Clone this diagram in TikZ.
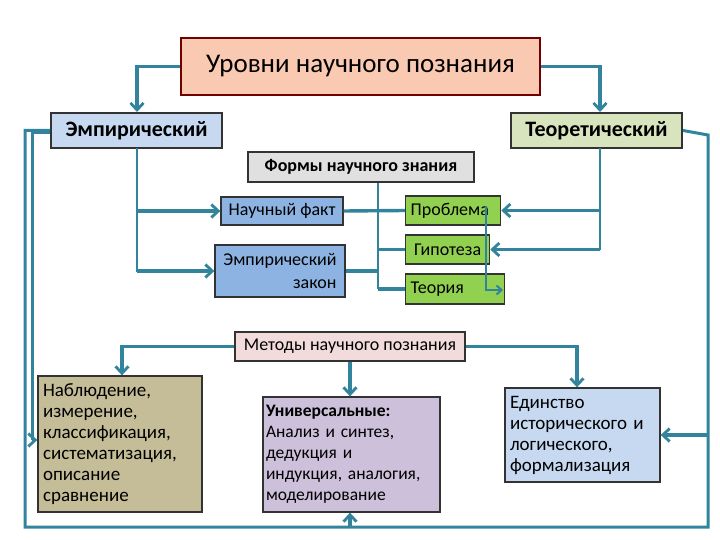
\documentclass[tikz,border=0pt]{standalone}
\usepackage{fontspec}
\setmainfont{Carlito}
\usetikzlibrary{arrows.meta}
\definecolor{teal1}{HTML}{31849B}
\tikzset{
 bx/.style={draw=black!80,line width=1.3pt,inner sep=3pt},
 cn/.style={draw=teal1,line width=3.4pt},
 ar/.style={cn,-{Straight Barb[length=7pt,width=13pt,line width=2.8pt]}},
}
\begin{document}
\begin{tikzpicture}[x=1pt,y=-1pt]
\useasboundingbox (0,0) rectangle (720,540);
\node[bx,draw=red!45!black,line width=2.5pt,fill={rgb,255:red,250;green,201;blue,177},minimum width=359pt,minimum height=57pt,font=\fontsize{27}{30}\selectfont] (top) at (360.5,66.5) {Уровни научного познания};
\node[bx,line width=2pt,fill={rgb,255:red,198;green,217;blue,241},minimum width=171pt,minimum height=35pt,font=\fontsize{22}{24}\selectfont\bfseries,anchor=west] (emp) at (50,130.5) {Эмпирический};
\node[bx,line width=2pt,fill={rgb,255:red,215;green,228;blue,189},minimum width=171pt,minimum height=35pt,font=\fontsize{22}{24}\selectfont\bfseries,anchor=east] (teo) at (683,130.5) {Теоретический};
\node[bx,fill=black!12,minimum width=226pt,minimum height=30pt,font=\fontsize{18}{20}\selectfont\bfseries] (forms) at (361,167) {Формы научного знания};
\node[bx,fill={rgb,255:red,141;green,179;blue,226},minimum width=122pt,minimum height=28pt,font=\fontsize{18}{20}\selectfont] (fact) at (282,211) {Научный факт};
\node[bx,fill={rgb,255:red,141;green,179;blue,226},minimum width=130pt,minimum height=52pt,font=\fontsize{18}{23}\selectfont,align=right] (law) at (280,271) {Эмпирический\\закон};
\node[bx,fill={rgb,255:red,146;green,208;blue,80},minimum width=95pt,minimum height=29pt,font=\fontsize{18}{20}\selectfont,anchor=west,align=left,text width=85pt] (prob) at (405,210.5) {Проблема};
\node[bx,fill={rgb,255:red,146;green,208;blue,80},minimum width=84pt,minimum height=29pt,font=\fontsize{18}{20}\selectfont,anchor=west] (hyp) at (405,249.5) {Гипотеза};
\node[bx,fill={rgb,255:red,146;green,208;blue,80},minimum width=99pt,minimum height=30pt,font=\fontsize{18}{20}\selectfont,anchor=west,align=left,text width=89pt] (theo) at (405,289) {Теория};
\node[bx,fill={rgb,255:red,242;green,220;blue,219},minimum width=230pt,minimum height=29pt,font=\fontsize{18}{20}\selectfont] (meth) at (350,346.5) {Методы научного познания};
\node[bx,fill={rgb,255:red,196;green,189;blue,151},minimum width=164pt,minimum height=136pt,font=\fontsize{19}{21}\selectfont,align=left,text width=154pt] (obs) at (120,444) {Наблюдение,\\измерение,\\классификация,\\систематизация,\\описание\\сравнение};
\node[bx,fill={rgb,255:red,204;green,192;blue,218},minimum width=177pt,minimum height=115pt,font=\fontsize{17.5}{21}\selectfont,align=left,text width=171pt] (uni) at (351.5,454.5) {\textbf{Универсальные:}\\Анализ и синтез,\\дедукция и\\\mbox{индукция, аналогия,}\\моделирование};
\node[bx,fill={rgb,255:red,198;green,217;blue,241},minimum width=155pt,minimum height=94pt,font=\fontsize{19}{21}\selectfont,align=left,text width=145pt] (uny) at (582.5,435) {Единство\\исторического и\\логического,\\формализация};
% top
\draw[ar] (top.west) -| (emp.north -| 137,0);
\draw[ar] (top.east) -| (teo.north -| 600,0);
% empirical
\coordinate (e1) at (137,148);
\draw[cn,line width=2.8pt] (e1) -- (137,272);
\draw[ar] (137,211) -- (fact.west);
\draw[ar] (137,271) -- (law.west);
% theoretical
\draw[cn,line width=2.8pt] (600,148) -- (600,250);
\draw[ar] (600,210.5) -- (prob.east);
\draw[ar] (600,249.5) -- (hyp.east);
% forms
\draw[cn,line width=2.6pt] (forms.south -| 378,0) -- (378,289);
\draw[cn] (fact.east) -- (prob.west);
\draw[cn] (law.east) -- (378,271);
\draw[cn] (378,249.5) -- (hyp.west);
\draw[cn] (378,289) -- (theo.west);
\draw[draw=teal1,line width=1.5pt,-{Straight Barb[length=5pt,width=9pt,line width=2pt]}] (486,206) -- (486,290) -- (503,290);
% outer loops
\draw[cn,line width=3pt] (emp.west) -- (25,130.5) -- (25,527) -- (708,527) -- (708,135) -- (teo.east);
\draw[cn,line width=3pt] (50,133) -- (32,133) -- (32,440);
\draw[ar] (32,440) -- (obs.west |- 0,440);
\draw[ar] (708,435) -- (uny.east);
\draw[ar] (350,527) -- (uni.south -| 350,0);
% methods
\draw[ar] (meth.west) -| (obs.north -| 122,0);
\draw[ar] (meth.east) -| (uny.north -| 577,0);
\draw[ar] (meth.south) -- (uni.north -| 350,0);
\end{tikzpicture}
\end{document}
